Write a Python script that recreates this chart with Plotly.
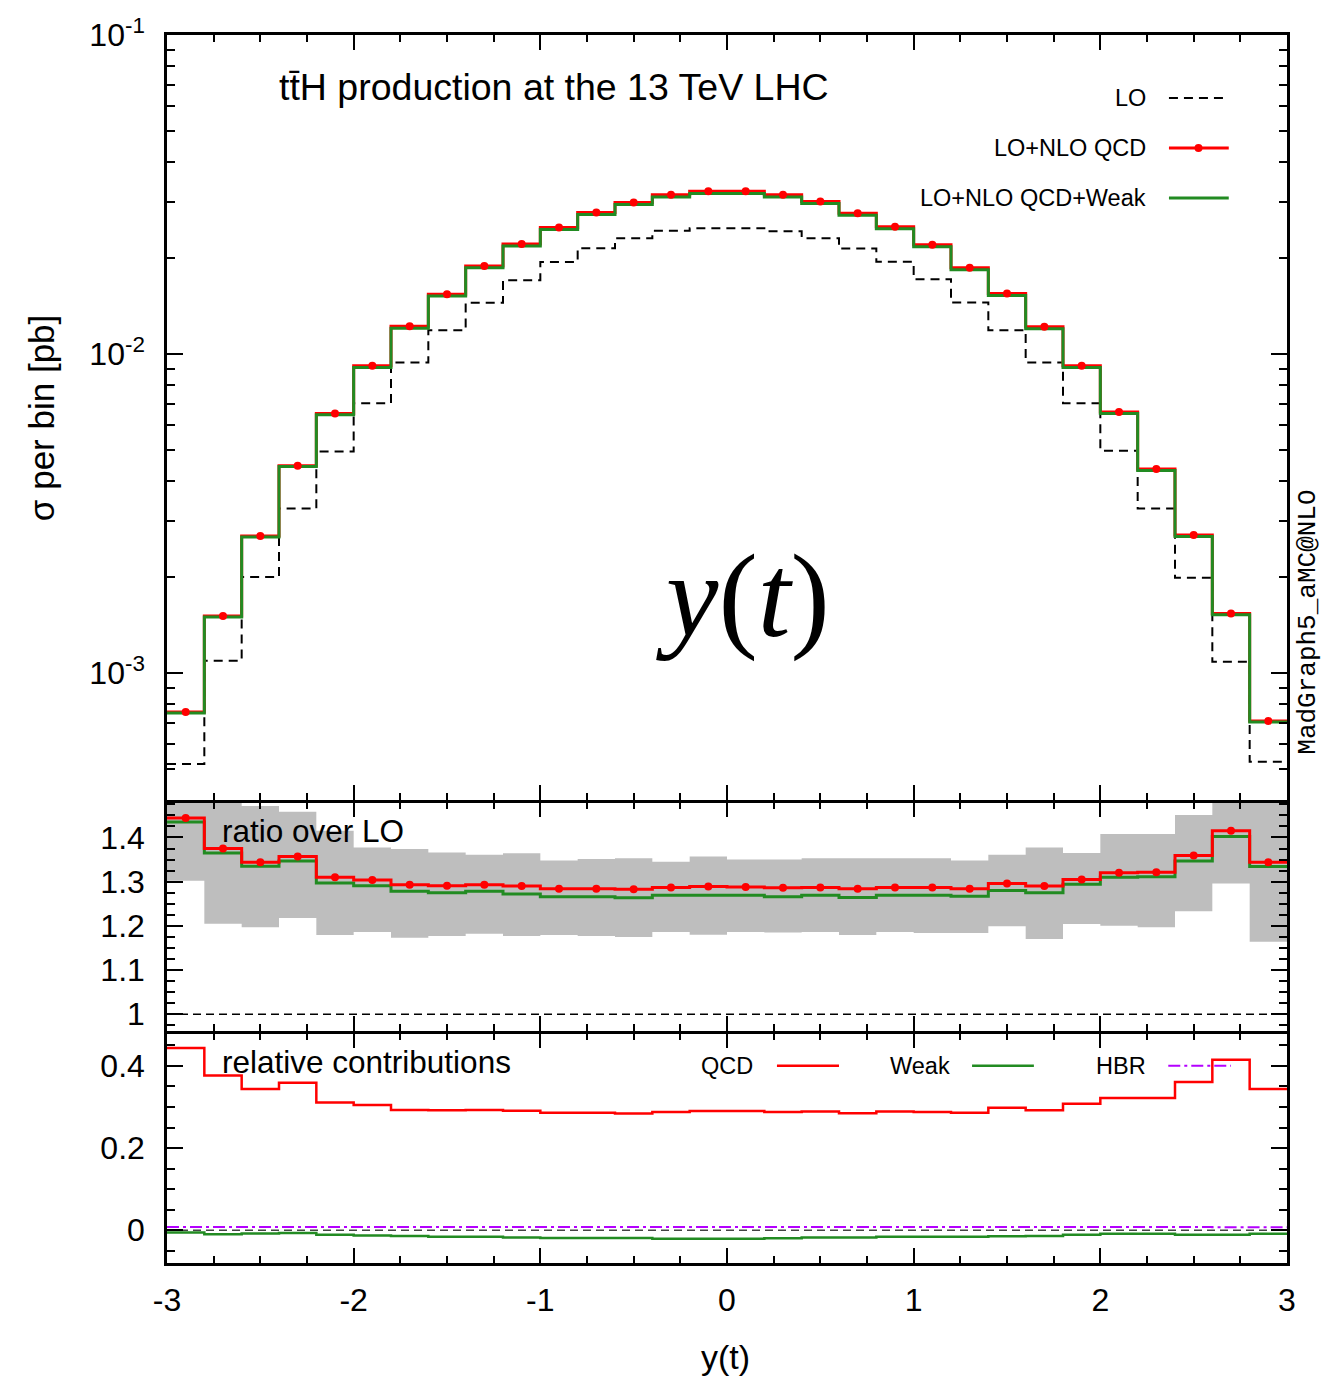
import plotly.graph_objects as go

# ---------------- data ----------------
bin_edges = [-3.0, -2.8, -2.6, -2.4, -2.2, -2.0, -1.8, -1.6, -1.4, -1.2, -1.0,
             -0.8, -0.6, -0.4, -0.2, 0.0, 0.2, 0.4, 0.6, 0.8, 1.0,
             1.2, 1.4, 1.6, 1.8, 2.0, 2.2, 2.4, 2.6, 2.8, 3.0]

lo = [5.19e-4, 1.094e-3, 2.00e-3, 3.28e-3, 4.95e-3, 7.02e-3, 9.42e-3, 1.188e-2, 1.45e-2, 1.706e-2,
      1.946e-2, 2.148e-2, 2.31e-2, 2.435e-2, 2.48e-2, 2.48e-2, 2.43e-2, 2.31e-2, 2.145e-2, 1.947e-2,
      1.718e-2, 1.452e-2, 1.188e-2, 9.42e-3, 7.02e-3, 4.98e-3, 3.28e-3, 1.99e-3, 1.085e-3, 5.27e-4]

nlo_qcd = [7.55e-4, 1.51e-3, 2.69e-3, 4.47e-3, 6.52e-3, 9.19e-3, 1.222e-2, 1.542e-2, 1.89e-2, 2.214e-2,
           2.496e-2, 2.78e-2, 2.99e-2, 3.16e-2, 3.24e-2, 3.24e-2, 3.16e-2, 3.01e-2, 2.766e-2, 2.506e-2,
           2.203e-2, 1.864e-2, 1.549e-2, 1.218e-2, 9.19e-3, 6.59e-3, 4.36e-3, 2.71e-3, 1.537e-3, 7.08e-4]

nlo_qcd_weak = [7.50e-4, 1.50e-3, 2.67e-3, 4.44e-3, 6.45e-3, 9.08e-3, 1.206e-2, 1.522e-2, 1.865e-2, 2.183e-2,
                2.46e-2, 2.74e-2, 2.945e-2, 3.11e-2, 3.19e-2, 3.19e-2, 3.11e-2, 2.965e-2, 2.725e-2, 2.47e-2,
                2.17e-2, 1.838e-2, 1.528e-2, 1.202e-2, 9.08e-3, 6.52e-3, 4.32e-3, 2.68e-3, 1.523e-3, 7.02e-4]

ratio_qcd = [1.444, 1.375, 1.344, 1.357, 1.310, 1.304, 1.293, 1.291, 1.293, 1.290,
             1.284, 1.284, 1.283, 1.287, 1.289, 1.288, 1.286, 1.287, 1.284, 1.287,
             1.287, 1.284, 1.296, 1.290, 1.305, 1.320, 1.321, 1.359, 1.415, 1.344]

ratio_qcd_weak = [1.435, 1.365, 1.335, 1.347, 1.297, 1.291, 1.278, 1.275, 1.278, 1.272,
                  1.266, 1.266, 1.2635, 1.269, 1.269, 1.269, 1.266, 1.269, 1.264, 1.269,
                  1.269, 1.267, 1.280, 1.275, 1.294, 1.310, 1.311, 1.347, 1.402, 1.334]

band_up = [1.50, 1.50, 1.471, 1.458, 1.415, 1.377, 1.374, 1.366, 1.361, 1.364,
           1.348, 1.351, 1.353, 1.345, 1.357, 1.350, 1.350, 1.353, 1.353, 1.353,
           1.353, 1.348, 1.361, 1.377, 1.365, 1.408, 1.408, 1.451, 1.50, 1.50]

band_lo = [1.302, 1.205, 1.197, 1.218, 1.179, 1.186, 1.173, 1.177, 1.182, 1.177,
           1.179, 1.177, 1.175, 1.186, 1.180, 1.186, 1.185, 1.186, 1.179, 1.186,
           1.184, 1.184, 1.199, 1.170, 1.204, 1.200, 1.197, 1.233, 1.296, 1.164]

rel_qcd = [0.444, 0.377, 0.344, 0.359, 0.311, 0.305, 0.293, 0.292, 0.293, 0.291,
           0.286, 0.286, 0.284, 0.288, 0.290, 0.290, 0.288, 0.289, 0.285, 0.289,
           0.288, 0.286, 0.298, 0.292, 0.308, 0.322, 0.322, 0.361, 0.415, 0.344]

rel_weak = [-0.006, -0.010, -0.008, -0.007, -0.011, -0.013, -0.014, -0.016, -0.016, -0.018,
            -0.019, -0.019, -0.019, -0.021, -0.021, -0.021, -0.020, -0.018, -0.018, -0.016,
            -0.016, -0.016, -0.015, -0.014, -0.011, -0.009, -0.009, -0.011, -0.011, -0.009]

rel_hbr = [0.008, 0.008, 0.008, 0.008, 0.008, 0.008, 0.008, 0.008, 0.008, 0.008,
           0.008, 0.008, 0.008, 0.008, 0.008, 0.008, 0.008, 0.008, 0.008, 0.008,
           0.008, 0.008, 0.008, 0.008, 0.008, 0.008, 0.008, 0.008, 0.007, 0.007]

ratio_lo = [1.0] * 30
rel_zero = [0.0] * 30

x_ticks = [-3, -2, -1, 0, 1, 2, 3]
x_ticktext = ["-3", "-2", "-1", "0", "1", "2", "3"]
main_ticks = [1e-3, 1e-2, 1e-1]
main_ticktext = ["10<sup>-3</sup>", "10<sup>-2</sup>", "10<sup>-1</sup>"]
ratio_ticks = [1.0, 1.1, 1.2, 1.3, 1.4]
ratio_ticktext = ["1", "1.1", "1.2", "1.3", "1.4"]
rel_ticks = [0.0, 0.2, 0.4]
rel_ticktext = ["0", "0.2", "0.4"]

# ---------------- helpers ----------------
centers = [(bin_edges[i] + bin_edges[i + 1]) / 2 for i in range(len(bin_edges) - 1)]


def steps(vals):
    return list(vals) + [vals[-1]]


FONT = "Liberation Sans, Arial, Helvetica, sans-serif"
RED = "#ff0000"
GREEN = "#228b22"
PURPLE = "#b400ff"

fig = go.Figure()

# ---- main panel ----
fig.add_trace(go.Scatter(x=bin_edges, y=steps(lo), mode="lines", line_shape="hv",
                         line=dict(color="black", width=2, dash="9px,6px"), xaxis="x", yaxis="y"))
fig.add_trace(go.Scatter(x=bin_edges, y=steps(nlo_qcd), mode="lines", line_shape="hv",
                         line=dict(color=RED, width=3), xaxis="x", yaxis="y"))
fig.add_trace(go.Scatter(x=bin_edges, y=steps(nlo_qcd_weak), mode="lines", line_shape="hv",
                         line=dict(color=GREEN, width=3), xaxis="x", yaxis="y"))
fig.add_trace(go.Scatter(x=centers, y=nlo_qcd, mode="markers",
                         marker=dict(color=RED, size=8), xaxis="x", yaxis="y"))

# ---- ratio panel ----
fig.add_trace(go.Scatter(x=bin_edges, y=steps(band_lo), mode="lines", line_shape="hv",
                         line=dict(width=0, color="#bebebe"), xaxis="x2", yaxis="y2"))
fig.add_trace(go.Scatter(x=bin_edges, y=steps(band_up), mode="lines", line_shape="hv",
                         line=dict(width=0, color="#bebebe"), fill="tonexty", fillcolor="#bebebe",
                         xaxis="x2", yaxis="y2"))
fig.add_trace(go.Scatter(x=bin_edges, y=steps(ratio_lo), mode="lines", line_shape="hv",
                         line=dict(color="black", width=1.5, dash="8px,5px"), xaxis="x2", yaxis="y2"))
fig.add_trace(go.Scatter(x=bin_edges, y=steps(ratio_qcd_weak), mode="lines", line_shape="hv",
                         line=dict(color=GREEN, width=3), xaxis="x2", yaxis="y2"))
fig.add_trace(go.Scatter(x=bin_edges, y=steps(ratio_qcd), mode="lines", line_shape="hv",
                         line=dict(color=RED, width=3), xaxis="x2", yaxis="y2"))
fig.add_trace(go.Scatter(x=centers, y=ratio_qcd, mode="markers",
                         marker=dict(color=RED, size=8), xaxis="x2", yaxis="y2"))

# ---- relative contributions panel ----
fig.add_trace(go.Scatter(x=bin_edges, y=steps(rel_zero), mode="lines", line_shape="hv",
                         line=dict(color="#444444", width=1.5, dash="8px,5px"), xaxis="x3", yaxis="y3"))
fig.add_trace(go.Scatter(x=bin_edges, y=steps(rel_hbr), mode="lines", line_shape="hv",
                         line=dict(color=PURPLE, width=2, dash="12px,4px,3px,4px"), xaxis="x3", yaxis="y3"))
fig.add_trace(go.Scatter(x=bin_edges, y=steps(rel_weak), mode="lines", line_shape="hv",
                         line=dict(color=GREEN, width=2.5), xaxis="x3", yaxis="y3"))
fig.add_trace(go.Scatter(x=bin_edges, y=steps(rel_qcd), mode="lines", line_shape="hv",
                         line=dict(color=RED, width=2.5), xaxis="x3", yaxis="y3"))

# ---------------- axes ----------------
# adjacent panels: lower panel's top edge pulled down by one line width so the
# two frame lines overlap into a single border
LW = 2.5
SHIFT = LW / 1228.0
D_MAIN = [0.377, 1.0]
D_RATIO = [0.1889, 0.377 - SHIFT]
D_REL = [0.0, 0.1889 - SHIFT]

tickfont = dict(family=FONT, size=32, color="black")


def xax(anchor, show):
    return dict(anchor=anchor, domain=[0, 1], range=[-3, 3], showgrid=False, zeroline=False,
                showline=True, linewidth=LW, linecolor="black", mirror="ticks",
                ticks="inside", ticklen=15, tickwidth=2, tickcolor="black",
                tickmode="array", tickvals=x_ticks, ticktext=x_ticktext,
                showticklabels=show, tickfont=tickfont, ticklabelstandoff=7,
                minor=dict(dtick=0.25, tick0=0, ticks="inside", ticklen=7, tickwidth=2, tickcolor="black"))


minor_log = []
for dec in [1e-4, 1e-3, 1e-2]:
    for m in range(2, 10):
        minor_log.append(m * dec)


def yax(anchor, domain, rng, tv, tt, minor, **kw):
    d = dict(anchor=anchor, domain=domain, range=rng,
             showgrid=False, zeroline=False, showline=True, linewidth=LW, linecolor="black",
             mirror="ticks", ticks="inside", ticklen=16, tickwidth=2, tickcolor="black",
             tickmode="array", tickvals=tv, ticktext=tt,
             tickfont=tickfont, ticklabelstandoff=13, minor=minor)
    d.update(kw)
    return d


fig.update_layout(
    width=1324, height=1377,
    margin=dict(l=167, r=37, t=35, b=114),
    paper_bgcolor="white", plot_bgcolor="white",
    showlegend=False,
    font=dict(family=FONT, color="black"),
    xaxis=xax("y", False),
    xaxis2=xax("y2", False),
    xaxis3=xax("y3", True),
    yaxis=yax("x", D_MAIN, [-3.398, -0.9995], main_ticks, main_ticktext,
              dict(tickvals=minor_log, ticks="inside", ticklen=8, tickwidth=2, tickcolor="black"),
              type="log"),
    yaxis2=yax("x2", D_RATIO, [0.962, 1.479], ratio_ticks, ratio_ticktext,
               dict(dtick=0.025, tick0=1.0, ticks="inside", ticklen=8, tickwidth=2, tickcolor="black")),
    yaxis3=yax("x3", D_REL, [-0.08, 0.479], rel_ticks, rel_ticktext,
               dict(dtick=0.05, tick0=0.0, ticks="inside", ticklen=8, tickwidth=2, tickcolor="black")),
)

# ---------------- annotations ----------------
ann = []
ann.append(dict(text="tt\u0304H production at the 13 TeV LHC", xref="x domain", yref="y domain",
                x=0.0985, y=0.932, xanchor="left", yanchor="middle", showarrow=False,
                font=dict(family=FONT, size=37.5, color="black")))
leg_y = [0.9176, 0.8523, 0.7869]
leg_txt = ["LO", "LO+NLO QCD", "LO+NLO QCD+Weak"]
for t, yy in zip(leg_txt, leg_y):
    ann.append(dict(text=t, xref="x domain", yref="y domain", x=0.876, y=yy,
                    xanchor="right", yanchor="middle", showarrow=False,
                    font=dict(family=FONT, size=23.5, color="black")))
ann.append(dict(text="<i>y</i>(<i>t</i>)", xref="x domain", yref="y domain", x=0.514, y=0.266,
                xanchor="center", yanchor="middle", showarrow=False,
                font=dict(family="Liberation Serif, DejaVu Serif, serif", size=118, color="black")))
ann.append(dict(text="ratio over LO", xref="x2 domain", yref="y2 domain", x=0.047, y=0.874,
                xanchor="left", yanchor="middle", showarrow=False,
                font=dict(family=FONT, size=31.5, color="black")))
ann.append(dict(text="relative contributions", xref="x3 domain", yref="y3 domain", x=0.047, y=0.875,
                xanchor="left", yanchor="middle", showarrow=False,
                font=dict(family=FONT, size=31.5, color="black")))
rel_leg = [("QCD", 0.525), ("Weak", 0.701), ("HBR", 0.876)]
for t, xx in rel_leg:
    ann.append(dict(text=t, xref="x3 domain", yref="y3 domain", x=xx, y=0.86,
                    xanchor="right", yanchor="middle", showarrow=False,
                    font=dict(family=FONT, size=23.5, color="black")))
ann.append(dict(text="MadGraph5_aMC@NLO", xref="paper", yref="paper", x=1.0185, y=0.522,
                xanchor="center", yanchor="middle", textangle=-90, showarrow=False,
                font=dict(family="Liberation Mono, DejaVu Sans Mono, monospace", size=26, color="black")))
ann.append(dict(text="\u03c3 per bin [pb]", xref="paper", yref="paper", x=-0.1125, y=0.688,
                xanchor="center", yanchor="middle", textangle=-90, showarrow=False,
                font=dict(family=FONT, size=35, color="black")))
ann.append(dict(text="y(t)", xref="paper", yref="paper", x=0.499, y=-0.0765,
                xanchor="center", yanchor="middle", showarrow=False,
                font=dict(family=FONT, size=34, color="black")))
fig.update_layout(annotations=ann)

# ---------------- legend keys (decorations) ----------------
shapes = []
shapes.append(dict(type="line", xref="x domain", yref="y domain", x0=0.8946, x1=0.948,
                   y0=leg_y[0], y1=leg_y[0], line=dict(color="black", width=2, dash="9px,6px")))
shapes.append(dict(type="line", xref="x domain", yref="y domain", x0=0.8946, x1=0.948,
                   y0=leg_y[1], y1=leg_y[1], line=dict(color=RED, width=3)))
shapes.append(dict(type="circle", xref="x domain", yref="y domain", xsizemode="pixel", ysizemode="pixel",
                   xanchor=0.921, yanchor=leg_y[1], x0=-4, x1=4, y0=-4, y1=4,
                   fillcolor=RED, line=dict(color=RED, width=0)))
shapes.append(dict(type="line", xref="x domain", yref="y domain", x0=0.8946, x1=0.948,
                   y0=leg_y[2], y1=leg_y[2], line=dict(color=GREEN, width=3)))
shapes.append(dict(type="line", xref="x3 domain", yref="y3 domain", x0=0.5446, x1=0.6,
                   y0=0.86, y1=0.86, line=dict(color=RED, width=2.5)))
shapes.append(dict(type="line", xref="x3 domain", yref="y3 domain", x0=0.7188, x1=0.774,
                   y0=0.86, y1=0.86, line=dict(color=GREEN, width=2.5)))
shapes.append(dict(type="line", xref="x3 domain", yref="y3 domain", x0=0.894, x1=0.95,
                   y0=0.86, y1=0.86, line=dict(color=PURPLE, width=2, dash="12px,4px,3px,4px")))
fig.update_layout(shapes=shapes)

fig.write_html("out.html")
